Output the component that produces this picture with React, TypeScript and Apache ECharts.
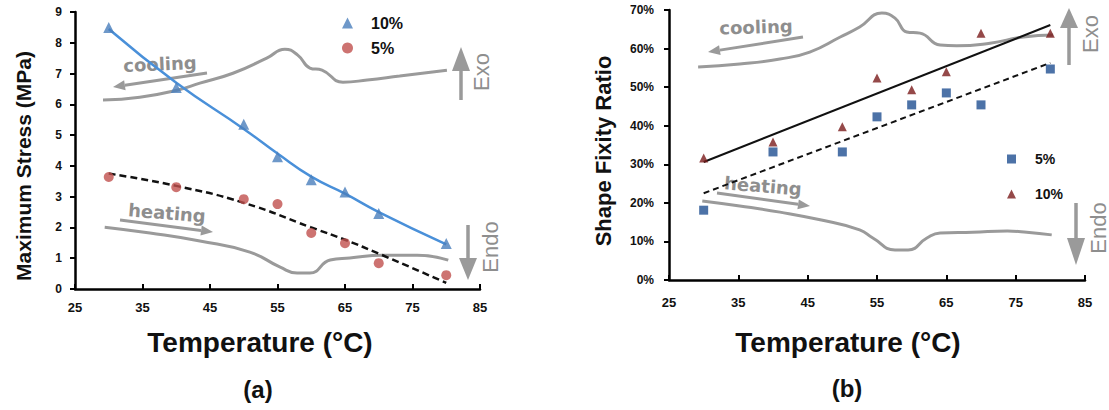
import React, { useEffect, useRef } from 'react';
import * as echarts from 'echarts';

// Temperatures at which both strain levels were measured (°C)
const temps = [30, 40, 50, 55, 60, 65, 70, 80];

// (a) Maximum stress (MPa)
const stress10 = [8.5, 6.55, 5.35, 4.3, 3.55, 3.15, 2.45, 1.48];
const stress5 = [3.64, 3.31, 2.92, 2.76, 1.82, 1.49, 0.84, 0.45];
const stressFit10 = [[30, 8.45], [40, 6.7], [50, 5.2], [55, 4.4], [60, 3.65], [65, 3.1], [70, 2.5], [80, 1.45]];
const stressFit5 = [[30, 3.75], [40, 3.35], [50, 2.8], [60, 2.0], [65, 1.6], [70, 1.15], [80, 0.2]];

// (b) Shape fixity ratio (%)
const fixity5 = [18.1, 33.2, 33.2, 42.3, 45.4, 48.5, 45.4, 54.7];
const fixity10 = [31.6, 35.8, 39.7, 52.4, 49.3, 54.0, 64.0, 64.0];
const fixityFit10 = [[30, 30.6], [80, 66.1]];
const fixityFit5 = [[30, 22.5], [80, 56.3]];

// DSC traces drawn behind the data, in each panel's axis units
const dscCoolA = [[29.15, 6.14], [34.6, 6.23], [40.1, 6.46], [43.5, 6.69], [48.4, 7.01], [53.4, 7.5], [56.1, 7.79], [58.0, 7.6], [59.8, 7.18], [61.6, 7.11], [64.7, 6.72], [68.3, 6.79], [73.1, 6.92], [80.1, 7.11]];
const dscHeatA = [[29.4, 2.01], [36.1, 1.82], [43.5, 1.56], [50.9, 1.2], [55.4, 0.71], [57.9, 0.52], [59.8, 0.52], [62.8, 0.94], [65.7, 1.01], [70.6, 1.1], [75.7, 1.1], [80.3, 0.94]];
const dscCoolB = [[29.2, 55.2], [35.2, 56.0], [41.0, 57.3], [45.3, 59.1], [49.7, 63.0], [52.5, 65.6], [55.7, 69.2], [57.6, 67.9], [59.3, 64.3], [61.2, 64.0], [64.1, 60.9], [66.5, 60.7], [71.3, 61.4], [76.1, 63.0], [80.4, 63.5]];
const dscHeatB = [[29.8, 20.5], [35.2, 19.2], [41.0, 17.6], [46.8, 15.6], [52.5, 13.0], [54.4, 10.9], [57.6, 7.8], [59.5, 7.8], [62.2, 10.9], [64.1, 12.2], [68.8, 12.4], [73.8, 12.7], [76.6, 12.4], [80.2, 11.7]];

const xTicks = { min: 25, max: 85, interval: 10 };
const stressTicks = { min: 0, max: 9, interval: 1 };
const fixityTicks = { min: 0, max: 70, interval: 10 };

const legendLabels: Record<string, string> = { a10: '10%', a5: '5%', b5: '5%', b10: '10%' };

const FONT = "'Liberation Sans', Arial, sans-serif";
const GREY = '#9a9a9a';
const TEXT_GREY = '#8e8e8e';

function pairs(xs: number[], ys: number[]) {
  return xs.map((x, i) => [x, ys[i]]);
}

function arrow(x1: number, y1: number, x2: number, y2: number, head: number, halfW: number, width: number) {
  const dx = x2 - x1;
  const dy = y2 - y1;
  const len = Math.hypot(dx, dy);
  const ux = dx / len;
  const uy = dy / len;
  const bx = x2 - ux * head;
  const by = y2 - uy * head;
  const px = -uy;
  const py = ux;
  return [
    { type: 'line', silent: true, shape: { x1, y1, x2: bx, y2: by }, style: { stroke: GREY, lineWidth: width } },
    {
      type: 'polygon',
      silent: true,
      shape: { points: [[x2, y2], [bx + px * halfW, by + py * halfW], [bx - px * halfW, by - py * halfW]] },
      style: { fill: GREY },
    },
  ];
}

function label(text: string, x: number, y: number, size: number, opts: any = {}) {
  return {
    type: 'text',
    silent: true,
    x,
    y,
    rotation: opts.rotation || 0,
    style: {
      text,
      fill: opts.fill || '#111',
      font: `${opts.weight || 'bold'} ${size}px ${opts.family || FONT}`,
      align: 'center',
      verticalAlign: 'middle',
    },
  };
}

function xAxis(gridIndex: number, labelMargin: number) {
  return {
    type: 'value',
    gridIndex,
    ...xTicks,
    axisLine: { onZero: false, lineStyle: { color: '#000', width: 2.5 } },
    axisTick: { inside: true, length: 5, lineStyle: { color: '#000', width: 2 } },
    axisLabel: { margin: labelMargin, color: '#111', fontWeight: 'bold', fontSize: 13, fontFamily: FONT },
    splitLine: { show: false },
  };
}

function yAxis(gridIndex: number, ticks: any, labelMargin: number, fmt?: (v: number) => string) {
  return {
    type: 'value',
    gridIndex,
    ...ticks,
    axisLine: { show: true, lineStyle: { color: '#000', width: 2.5 } },
    axisTick: { show: true, length: 5, lineStyle: { color: '#000', width: 2 } },
    axisLabel: { margin: labelMargin, color: '#111', fontWeight: 'bold', fontSize: 12, fontFamily: FONT, formatter: fmt },
    splitLine: { show: false },
  };
}

function curve(xi: number, data: number[][], color: string, width: number, type: any = 'solid', smooth = true, z = 2) {
  return {
    type: 'line',
    xAxisIndex: xi,
    yAxisIndex: xi,
    data,
    smooth,
    symbol: 'none',
    silent: true,
    z,
    lineStyle: { color, width, type },
  };
}

export default function App() {
  const ref = useRef<HTMLDivElement>(null);

  useEffect(() => {
    if (!ref.current) return;
    const chart = echarts.init(ref.current, null, { renderer: 'svg' });

    const graphic: any[] = [
      // panel (a) annotations
      ...arrow(207, 73, 113, 87, 12, 5, 3),
      ...arrow(120, 220, 213, 232, 12, 5, 3),
      ...arrow(461, 100, 461, 47, 24, 9, 3.5),
      ...arrow(468, 225, 468, 280, 22, 9, 3.5),
      label('cooling', 160, 64, 18, { fill: TEXT_GREY, family: "'DejaVu Sans', sans-serif", rotation: 0.04 }),
      label('heating', 167, 213, 18, { fill: TEXT_GREY, family: "'DejaVu Sans', sans-serif", rotation: -0.08 }),
      label('Exo', 481, 72, 22, { fill: TEXT_GREY, weight: 'normal', rotation: Math.PI / 2 }),
      label('Endo', 490, 247, 22, { fill: TEXT_GREY, weight: 'normal', rotation: Math.PI / 2 }),
      label('Maximum Stress (MPa)', 23, 166, 21, { rotation: Math.PI / 2 }),
      label('Temperature (°C)', 260, 342, 28),
      label('(a)', 258, 389, 24),
      // panel (b) annotations
      ...arrow(803, 37, 708, 52, 12, 5, 3),
      ...arrow(717, 193, 810, 206, 12, 5, 3),
      ...arrow(1069, 65, 1069, 8, 20, 9, 3.5),
      ...arrow(1076, 203, 1076, 265, 27, 9, 3.5),
      label('cooling', 756, 27, 18, { fill: TEXT_GREY, family: "'DejaVu Sans', sans-serif", rotation: 0.03 }),
      label('heating', 763, 186, 18, { fill: TEXT_GREY, family: "'DejaVu Sans', sans-serif", rotation: -0.08 }),
      label('Exo', 1090, 34, 22, { fill: TEXT_GREY, weight: 'normal', rotation: Math.PI / 2 }),
      label('Endo', 1098, 228, 22, { fill: TEXT_GREY, weight: 'normal', rotation: Math.PI / 2 }),
      label('Shape Fixity Ratio', 603, 151, 22, { rotation: Math.PI / 2 }),
      label('Temperature (°C)', 848, 342, 28),
      label('(b)', 847, 388, 24),
    ];

    chart.setOption({
      animation: false,
      backgroundColor: '#fff',
      textStyle: { fontFamily: FONT },
      grid: [
        { left: 75, top: 12, width: 405, height: 277, containLabel: false },
        { left: 669, top: 10, width: 416, height: 270, containLabel: false },
      ],
      xAxis: [xAxis(0, 12), xAxis(1, 16)],
      yAxis: [yAxis(0, stressTicks, 13), yAxis(1, fixityTicks, 15, (v: number) => `${v}%`)],
      legend: [
        {
          data: ['a10', 'a5'],
          orient: 'vertical',
          left: 337,
          top: 10,
          itemGap: 9,
          itemWidth: 11,
          itemHeight: 11,
          selectedMode: false,
          formatter: (n: string) => legendLabels[n],
          textStyle: { fontWeight: 'bold', fontSize: 16, color: '#111', fontFamily: FONT, padding: [0, 0, 0, 13] },
        },
        {
          data: ['b5', 'b10'],
          orient: 'vertical',
          left: 1002,
          top: 147,
          itemGap: 21,
          itemWidth: 9,
          itemHeight: 9,
          selectedMode: false,
          formatter: (n: string) => legendLabels[n],
          textStyle: { fontWeight: 'bold', fontSize: 14, color: '#111', fontFamily: FONT, padding: [0, 0, 0, 14] },
        },
      ],
      series: [
        curve(0, dscCoolA, GREY, 3, 'solid', true, 1),
        curve(0, dscHeatA, GREY, 3, 'solid', true, 1),
        curve(0, stressFit10, '#4a90d9', 2.5, 'solid', true, 2),
        curve(0, stressFit5, '#111', 2.5, [7, 4], true, 2),
        {
          name: 'a10',
          type: 'scatter',
          xAxisIndex: 0,
          yAxisIndex: 0,
          data: pairs(temps, stress10),
          symbol: 'triangle',
          symbolSize: 11,
          itemStyle: { color: '#4a7ebb' },
          z: 3,
        },
        {
          name: 'a5',
          type: 'scatter',
          xAxisIndex: 0,
          yAxisIndex: 0,
          data: pairs(temps, stress5),
          symbol: 'circle',
          symbolSize: 10,
          itemStyle: { color: '#c0504d' },
          z: 3,
        },
        curve(1, dscCoolB, GREY, 3, 'solid', true, 1),
        curve(1, dscHeatB, GREY, 3, 'solid', true, 1),
        curve(1, fixityFit10, '#111', 2, 'solid', false, 2),
        curve(1, fixityFit5, '#111', 2, [6, 4], false, 2),
        {
          name: 'b5',
          type: 'scatter',
          xAxisIndex: 1,
          yAxisIndex: 1,
          data: pairs(temps, fixity5),
          symbol: 'rect',
          symbolSize: 9,
          itemStyle: { color: '#1f4f91' },
          z: 3,
        },
        {
          name: 'b10',
          type: 'scatter',
          xAxisIndex: 1,
          yAxisIndex: 1,
          data: pairs(temps, fixity10),
          symbol: 'triangle',
          symbolSize: 9,
          itemStyle: { color: '#7a1c1c' },
          z: 3,
        },
      ],
      graphic,
    });

    return () => chart.dispose();
  }, []);

  return (
    <div
      ref={ref}
      style={{ position: 'absolute', left: 0, top: 0, width: 1109, height: 410, background: '#fff' }}
    />
  );
}
